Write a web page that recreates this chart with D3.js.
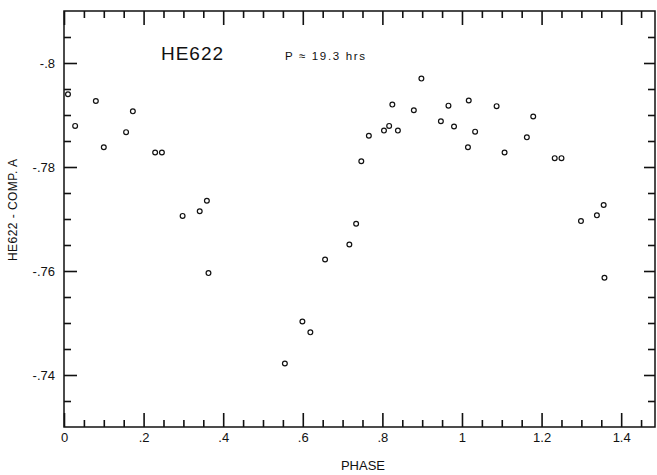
<!DOCTYPE html>
<html>
<head>
<meta charset="utf-8">
<script src="https://cdn.jsdelivr.net/npm/d3@7"></script>
<style>
    body { margin: 0; background: #fff; }
    svg { font-family: "Liberation Sans", Arial, sans-serif; }
</style>
</head>
<body>
<div id="chart"></div>
<script>
// phase values
const phase = [0.01, 0.028, 0.080, 0.100, 0.156, 0.173, 0.229, 0.246, 0.298, 0.341, 0.359, 0.363,
    0.555, 0.599, 0.619, 0.656, 0.717, 0.734, 0.747, 0.766, 0.804, 0.817, 0.825, 0.839,
    0.879, 0.898, 0.947, 0.966, 0.980, 1.015, 1.017, 1.033, 1.087, 1.107, 1.163, 1.179,
    1.233, 1.250, 1.299, 1.339, 1.356, 1.358];
// HE622 - COMP. A differential magnitude
const mag = [-0.7940, -0.7879, -0.7927, -0.7838, -0.7867, -0.7907, -0.7828, -0.7828, -0.7706, -0.7715, -0.7735, -0.7596,
    -0.7422, -0.7503, -0.7482, -0.7622, -0.7651, -0.7691, -0.7811, -0.7860, -0.7870, -0.7879, -0.7920, -0.7870,
    -0.7909, -0.7970, -0.7888, -0.7918, -0.7878, -0.7838, -0.7928, -0.7868, -0.7917, -0.7828, -0.7857, -0.7897,
    -0.7817, -0.7817, -0.7696, -0.7707, -0.7727, -0.7587];
const xMajor = [0, 0.2, 0.4, 0.6, 0.8, 1, 1.2, 1.4];
const yMajor = [-0.8, -0.78, -0.76, -0.74];
const xMinor = [0.05, 0.1, 0.15, 0.25, 0.3, 0.35, 0.45, 0.5, 0.55, 0.65, 0.7, 0.75, 0.85, 0.9, 0.95,
    1.05, 1.1, 1.15, 1.25, 1.3, 1.35, 1.45];
const yMinor = [-0.805, -0.795, -0.79, -0.785, -0.775, -0.77, -0.765, -0.755, -0.75, -0.745, -0.735];

const width = 657;
const height = 475;
const mLeft = 64, mRight = 655, mTop = 11, mBottom = 427;

let svg = d3.select("#chart")
    .append("svg")
    .attr("width", width)
    .attr("height", height);

let x = d3.scaleLinear().domain([0, 1.485]).range([mLeft, mRight]);
let y = d3.scaleLinear().domain([-0.81, -0.73]).range([mTop, mBottom]);

function fmt(d){
    if(d === 0) return "0";
    return String(+d.toFixed(2)).replace(/^(-?)0\./, "$1.");
}

function styleAxis(g){
    g.select(".domain").remove();
    g.attr("font-family", null);
    g.selectAll("line").attr("stroke", "#111").attr("stroke-width", 1.6);
    g.selectAll("text")
        .attr("fill", "#111")
        .style("font-family", "'Liberation Sans', Arial, sans-serif")
        .style("font-size", "13px");
}

// frame
svg.append("rect")
    .attr("x", mLeft)
    .attr("y", mTop)
    .attr("width", mRight - mLeft)
    .attr("height", mBottom - mTop)
    .attr("fill", "none")
    .attr("stroke", "#111")
    .attr("stroke-width", 1.5);

// axes, all ticks pointing inward
svg.append("g").attr("transform", `translate(0,${mBottom})`)
    .call(d3.axisBottom(x).tickValues(xMajor).tickSize(-14).tickPadding(6).tickFormat(fmt))
    .call(styleAxis);
svg.append("g").attr("transform", `translate(0,${mBottom})`)
    .call(d3.axisBottom(x).tickValues(xMinor).tickSize(-7).tickFormat(() => ""))
    .call(styleAxis);
svg.append("g").attr("transform", `translate(0,${mTop})`)
    .call(d3.axisTop(x).tickValues(xMajor).tickSize(-14).tickFormat(() => ""))
    .call(styleAxis);
svg.append("g").attr("transform", `translate(0,${mTop})`)
    .call(d3.axisTop(x).tickValues(xMinor).tickSize(-7).tickFormat(() => ""))
    .call(styleAxis);
svg.append("g").attr("transform", `translate(${mLeft},0)`)
    .call(d3.axisLeft(y).tickValues(yMajor).tickSize(-13).tickPadding(9).tickFormat(fmt))
    .call(styleAxis);
svg.append("g").attr("transform", `translate(${mLeft},0)`)
    .call(d3.axisLeft(y).tickValues(yMinor).tickSize(-7).tickFormat(() => ""))
    .call(styleAxis);
svg.append("g").attr("transform", `translate(${mRight},0)`)
    .call(d3.axisRight(y).tickValues(yMajor).tickSize(-11).tickFormat(() => ""))
    .call(styleAxis);
svg.append("g").attr("transform", `translate(${mRight},0)`)
    .call(d3.axisRight(y).tickValues(yMinor).tickSize(-7).tickFormat(() => ""))
    .call(styleAxis);

// points
svg.append("g")
    .selectAll("circle")
    .data(phase.map((p, i) => [p, mag[i]]))
    .join("circle")
    .attr("cx", d => x(d[0]))
    .attr("cy", d => y(d[1]))
    .attr("r", 2.4)
    .attr("fill", "none")
    .attr("stroke", "#111")
    .attr("stroke-width", 1.2);

// labels
svg.append("text")
    .attr("x", 161)
    .attr("y", 60)
    .attr("textLength", 62)
    .style("font-size", "19px")
    .style("fill", "#111")
    .text("HE622");
svg.append("text")
    .attr("x", 285)
    .attr("y", 60)
    .attr("textLength", 80)
    .attr("lengthAdjust", "spacing")
    .style("font-size", "11.5px")
    .style("fill", "#111")
    .text("P \u2248 19.3 hrs");
svg.append("text")
    .attr("x", 363)
    .attr("y", 470)
    .attr("text-anchor", "middle")
    .style("font-size", "13px")
    .style("fill", "#111")
    .text("PHASE");
svg.append("text")
    .attr("transform", "translate(17,210) rotate(-90)")
    .attr("text-anchor", "middle")
    .attr("textLength", 102)
    .style("font-size", "12px")
    .style("fill", "#111")
    .text("HE622 - COMP. A");
</script>
</body>
</html>
